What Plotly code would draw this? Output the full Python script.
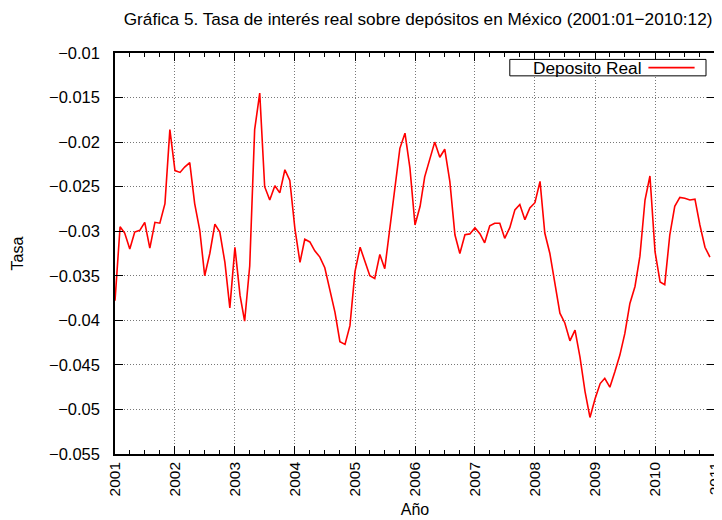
import pandas as pd
import plotly.graph_objects as go

# tasa de interés real sobre depósitos, mensual 2001:01 - 2010:12
fechas = pd.date_range('2001-01-01', periods=120, freq='MS')
tasa = [
    # 2001
    -0.0378, -0.0295, -0.0302, -0.0320, -0.0301, -0.0299,
    -0.0290, -0.0319, -0.0290, -0.0291, -0.0269, -0.0186,
    # 2002
    -0.0232, -0.0234, -0.0228, -0.0223, -0.0269, -0.0299,
    -0.0350, -0.0325, -0.0292, -0.0301, -0.0335, -0.0386,
    # 2003
    -0.0318, -0.0372, -0.0401, -0.0339, -0.0186, -0.0145,
    -0.0250, -0.0265, -0.0249, -0.0257, -0.0231, -0.0243,
    # 2004
    -0.0297, -0.0335, -0.0309, -0.0312, -0.0322, -0.0329,
    -0.0341, -0.0365, -0.0391, -0.0424, -0.0427, -0.0406,
    # 2005
    -0.0345, -0.0318, -0.0333, -0.0350, -0.0353, -0.0326,
    -0.0342, -0.0295, -0.0248, -0.0207, -0.0190, -0.0229,
    # 2006
    -0.0293, -0.0272, -0.0239, -0.0220, -0.0200, -0.0217,
    -0.0208, -0.0244, -0.0304, -0.0325, -0.0304, -0.0303,
    # 2007
    -0.0296, -0.0303, -0.0313, -0.0294, -0.0291, -0.0291,
    -0.0308, -0.0296, -0.0276, -0.0270, -0.0287, -0.0274,
    # 2008
    -0.0268, -0.0244, -0.0302, -0.0325, -0.0360, -0.0392,
    -0.0403, -0.0423, -0.0411, -0.0441, -0.0480, -0.0509,
    # 2009
    -0.0488, -0.0471, -0.0465, -0.0475, -0.0458, -0.0439,
    -0.0415, -0.0381, -0.0362, -0.0328, -0.0265, -0.0238,
    # 2010
    -0.0323, -0.0357, -0.0360, -0.0304, -0.0272, -0.0262,
    -0.0263, -0.0265, -0.0264, -0.0293, -0.0318, -0.0329,
]

y_ticks = [-0.01, -0.015, -0.02, -0.025, -0.03, -0.035, -0.04, -0.045, -0.05, -0.055]
y_labels = ['−0.01', '−0.015', '−0.02', '−0.025', '−0.03', '−0.035',
            '−0.04', '−0.045', '−0.05', '−0.055']

fnt = 'Liberation Sans, Arial, sans-serif'

fig = go.Figure()
fig.add_trace(go.Scatter(
    x=fechas, y=tasa, mode='lines', name='Deposito Real',
    line=dict(color='#ff0000', width=1.6),
    showlegend=False
))

# leyenda estilo gnuplot: texto y muestra de línea a la derecha
fig.add_shape(type='rect', xref='paper', yref='paper',
              x0=0.658, x1=0.985, y0=0.943, y1=0.984,
              line=dict(color='black', width=1), fillcolor='white')
fig.add_annotation(text='Deposito Real', xref='paper', yref='paper',
                   x=0.881, y=0.9635, xanchor='right', yanchor='middle',
                   showarrow=False, font=dict(family=fnt, size=17.3, color='black'))
fig.add_shape(type='line', xref='paper', yref='paper',
              x0=0.889, x1=0.966, y0=0.9635, y1=0.9635,
              line=dict(color='#ff0000', width=1.6))

fig.update_layout(
    width=722, height=520,
    margin=dict(l=107, r=7, t=45, b=74),
    paper_bgcolor='white', plot_bgcolor='white',
    font=dict(family=fnt, size=16, color='black'),
    title=dict(
        text='Gráfica 5. Tasa de interés real sobre depósitos en México (2001:01−2010:12)',
        x=0.568, xref='container', xanchor='center',
        y=0.978, yref='container', yanchor='middle',
        font=dict(family=fnt, size=17.2, color='black')
    ),
)
fig.update_xaxes(
    range=['2001-01-01', '2011-01-01'],
    dtick='M12', tickformat='%Y', tickangle=-90,
    ticks='inside', ticklen=8, tickcolor='black', tickwidth=1,
    showline=True, linecolor='black', linewidth=1.5, mirror='allticks',
    showgrid=True, gridcolor='#777', griddash='1px,2px', gridwidth=1,
    zeroline=False,
    minor=dict(dtick='M3', ticks='inside', ticklen=4, tickcolor='black', showgrid=False),
    title=dict(text='Año', standoff=8, font=dict(family=fnt, size=16)),
    tickfont=dict(family=fnt, size=15.5),
)
fig.update_yaxes(
    range=[-0.055, -0.01],
    tickvals=y_ticks, ticktext=y_labels,
    ticks='inside', ticklen=8, tickcolor='black', tickwidth=1,
    showline=True, linecolor='black', linewidth=1.5, mirror='allticks',
    showgrid=True, gridcolor='#777', griddash='1px,2px', gridwidth=1,
    zeroline=False, ticklabelstandoff=10,
    title=dict(text='Tasa', standoff=21, font=dict(family=fnt, size=16)),
    tickfont=dict(family=fnt, size=16.5),
)

fig.write_html('out.html')
